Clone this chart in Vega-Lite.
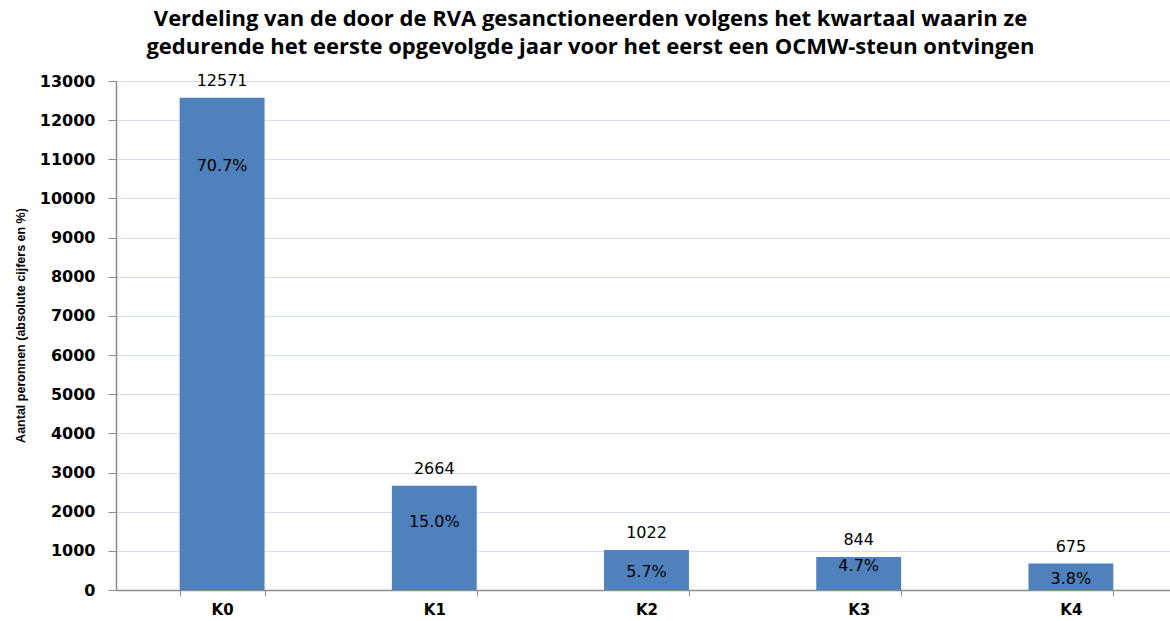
{
  "$schema": "https://vega.github.io/schema/vega-lite/v6.json",
  "autosize": {"type": "none"},
  "padding": {"left": 116, "top": 81, "right": 0, "bottom": 31},
  "width": 1061,
  "height": 509,
  "background": "white",
  "title": {
    "text": ["Verdeling van de door de RVA gesanctioneerden volgens het kwartaal waarin ze", "gedurende het eerste opgevolgde jaar voor het eerst een OCMW-steun ontvingen"],
    "font": "Open Sans",
    "fontSize": 22,
    "fontWeight": "bold",
    "color": "black",
    "lineHeight": 28,
    "anchor": "middle",
    "frame": "group",
    "dx": -56,
    "offset": 14
  },
  "data": {
    "values": [
      {"kwartaal": "K0", "aantal": 12571, "pct": "70.7%"},
      {"kwartaal": "K1", "aantal": 2664, "pct": "15.0%"},
      {"kwartaal": "K2", "aantal": 1022, "pct": "5.7%"},
      {"kwartaal": "K3", "aantal": 844, "pct": "4.7%"},
      {"kwartaal": "K4", "aantal": 675, "pct": "3.8%"}
    ]
  },
  "encoding": {
    "x": {
      "field": "kwartaal",
      "type": "nominal",
      "sort": null,
      "scale": {"paddingInner": 0.6, "paddingOuter": 0.3},
      "axis": {
        "title": null,
        "labelAngle": 0,
        "labelFont": "DejaVu Sans",
        "labelFontWeight": "bold",
        "labelFontSize": 15,
        "labelColor": "black",
        "labelPadding": 6,
        "domainColor": "#8c8c8c",
        "domainWidth": 1.5,
        "tickColor": "#8c8c8c",
        "tickSize": 6,
        "tickBand": "extent",
        "grid": false
      }
    },
    "y": {
      "field": "aantal",
      "type": "quantitative",
      "scale": {"domain": [0, 13000], "nice": false},
      "axis": {
        "title": "Aantal peronnen (absolute cijfers en %)",
        "titleFont": "Liberation Sans",
        "titleFontSize": 12.5,
        "titleFontWeight": "bold",
        "titleColor": "black",
        "titleAngle": -90,
        "titleX": -96,
        "titleY": 244,
        "titleAlign": "center",
        "titleBaseline": "middle",
        "values": [0, 1000, 2000, 3000, 4000, 5000, 6000, 7000, 8000, 9000, 10000, 11000, 12000, 13000],
        "format": "d",
        "labelFont": "DejaVu Sans",
        "labelFontWeight": "bold",
        "labelFontSize": 16,
        "labelColor": "black",
        "labelPadding": 13,
        "tickSize": 8,
        "tickColor": "#8c8c8c",
        "domainColor": "#8c8c8c",
        "domainWidth": 1.5,
        "gridColor": "#d6dff0",
        "gridWidth": 1
      }
    }
  },
  "layer": [
    {"mark": {"type": "bar", "color": "#4f81bd"}},
    {
      "mark": {"type": "text", "font": "DejaVu Sans", "fontSize": 16, "color": "black", "baseline": "middle", "dy": -17},
      "encoding": {"text": {"field": "aantal", "type": "quantitative", "format": "d"}}
    },
    {
      "transform": [{"filter": "datum.kwartaal === 'K0'"}],
      "mark": {"type": "text", "font": "DejaVu Sans", "fontSize": 16, "color": "black", "baseline": "middle", "dy": 68},
      "encoding": {"text": {"field": "pct"}}
    },
    {
      "transform": [{"filter": "datum.kwartaal === 'K1'"}],
      "mark": {"type": "text", "font": "DejaVu Sans", "fontSize": 16, "color": "black", "baseline": "middle", "dy": 36},
      "encoding": {"text": {"field": "pct"}}
    },
    {
      "transform": [{"filter": "datum.kwartaal === 'K2'"}],
      "mark": {"type": "text", "font": "DejaVu Sans", "fontSize": 16, "color": "black", "baseline": "middle", "dy": 22},
      "encoding": {"text": {"field": "pct"}}
    },
    {
      "transform": [{"filter": "datum.kwartaal === 'K3'"}],
      "mark": {"type": "text", "font": "DejaVu Sans", "fontSize": 16, "color": "black", "baseline": "middle", "dy": 9},
      "encoding": {"text": {"field": "pct"}}
    },
    {
      "transform": [{"filter": "datum.kwartaal === 'K4'"}],
      "mark": {"type": "text", "font": "DejaVu Sans", "fontSize": 16, "color": "black", "baseline": "middle", "dy": 15},
      "encoding": {"text": {"field": "pct"}}
    }
  ],
  "config": {"view": {"stroke": null}}
}
